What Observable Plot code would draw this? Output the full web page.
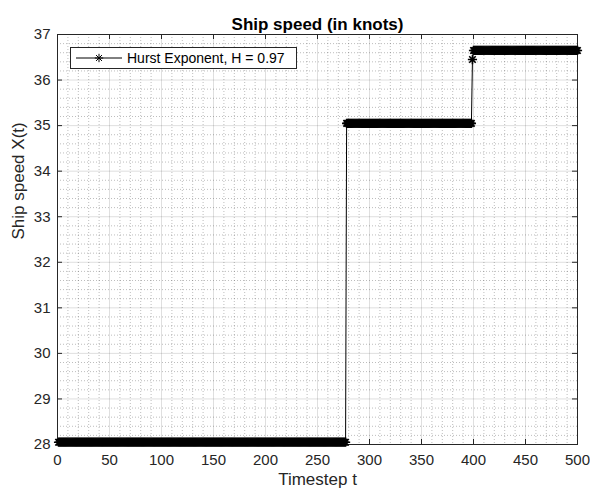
<!DOCTYPE html>
<html>
<head>
<meta charset="utf-8">
<script src="https://cdn.jsdelivr.net/npm/d3@7"></script>
<script src="https://cdn.jsdelivr.net/npm/@observablehq/plot@0.6"></script>
<style>
  body { margin: 0; background: #fff; }
  #chart { position: relative; width: 590px; height: 495px; font-family: "Liberation Sans", Arial, sans-serif; }
  #legend {
    position: absolute; left: 70px; top: 47px; width: 227px; height: 22px;
    box-sizing: border-box; border: 1px solid #262626; background: #fff;
    display: flex; align-items: center; font-size: 14px; color: #000; white-space: nowrap;
  }
  #legend svg { display: block; margin-left: 4px; margin-right: 4px; }
</style>
</head>
<body>
<div id="chart"></div>
<script>
// Ship speed series: piecewise-constant levels over timesteps
const segmentStart = [1, 278, 399, 400];
const segmentEnd   = [277, 398, 399, 500];
const segmentSpeed = [28.05, 35.05, 36.45, 36.65];

const seriesLabel = "Hurst Exponent, H = 0.97";
const chartTitle = "Ship speed (in knots)";
const xLabel = "Timestep t";
const yLabel = "Ship speed X(t)";

const xTicks = [0, 50, 100, 150, 200, 250, 300, 350, 400, 450, 500];
const yTicks = [28, 29, 30, 31, 32, 33, 34, 35, 36, 37];
const xMinorTicks = d3.range(0, 501, 10).filter(v => v % 50 !== 0);
const yMinorTicks = d3.range(28, 37.001, 0.2).map(v => +v.toFixed(1)).filter(v => !Number.isInteger(v));

const points = [];
segmentStart.forEach((s, i) => {
  for (let t = s; t <= segmentEnd[i]; t++) points.push({t, speed: segmentSpeed[i]});
});

// Eight-armed asterisk marker (plus and cross combined)
const asterisk = {
  draw(context, size) {
    const r = Math.sqrt(size / Math.PI);
    const d = r * Math.SQRT1_2;
    context.moveTo(0, -r); context.lineTo(0, r);
    context.moveTo(-r, 0); context.lineTo(r, 0);
    context.moveTo(-d, -d); context.lineTo(d, d);
    context.moveTo(-d, d); context.lineTo(d, -d);
  }
};

const W = 590, H = 495, mL = 57, mR = 13, mT = 34, mB = 51;
const plotW = W - mL - mR, plotH = H - mT - mB;
const axisColor = "#262626";
const markerR = 4.6;

const chart = Plot.plot({
  width: W, height: H,
  marginLeft: mL, marginRight: mR, marginTop: mT, marginBottom: mB,
  style: { fontFamily: "'Liberation Sans', Arial, sans-serif", fontSize: "15px", color: axisColor, background: "#fff", overflow: "visible" },
  x: { domain: [0, 500] },
  y: { domain: [28, 37] },
  marks: [
    // minor grid
    Plot.ruleX(xMinorTicks, { stroke: axisColor, strokeOpacity: 0.3, strokeDasharray: "1,2" }),
    Plot.ruleY(yMinorTicks, { stroke: axisColor, strokeOpacity: 0.3, strokeDasharray: "1,2" }),
    // major grid
    Plot.ruleX(xTicks, { stroke: axisColor, strokeOpacity: 0.15 }),
    Plot.ruleY(yTicks, { stroke: axisColor, strokeOpacity: 0.15 }),
    // box and inward ticks
    Plot.frame({ stroke: axisColor }),
    Plot.ruleX(xTicks, { stroke: axisColor, insetTop: plotH - 5 }),
    Plot.ruleX(xTicks, { stroke: axisColor, insetBottom: plotH - 5 }),
    Plot.ruleY(yTicks, { stroke: axisColor, insetRight: plotW - 5 }),
    Plot.ruleY(yTicks, { stroke: axisColor, insetLeft: plotW - 5 }),
    // tick labels
    Plot.axisX(xTicks, { tickSize: 0, tickPadding: 10, label: null, fill: axisColor, fontSize: 15 }),
    Plot.axisY(yTicks, { tickSize: 0, tickPadding: 7, label: null, fill: axisColor, fontSize: 15 }),
    // series
    Plot.line(points, { x: "t", y: "speed", stroke: "#000", strokeWidth: 1 }),
    Plot.dot(points, { x: "t", y: "speed", symbol: asterisk, r: markerR, stroke: "#000", fill: "none", strokeWidth: 1.6 }),
    // title and axis labels
    Plot.text([chartTitle], { frameAnchor: "top", dy: -17, fontWeight: "bold", fontSize: 17, fill: "#000" }),
    Plot.text([xLabel], { frameAnchor: "bottom", dy: 40, fontSize: 17, fill: axisColor }),
    Plot.text([yLabel], { frameAnchor: "left", dx: -39, rotate: -90, fontSize: 17, fill: axisColor })
  ]
});

const container = document.getElementById("chart");
container.appendChild(chart);

// Legend box
const legend = document.createElement("div");
legend.id = "legend";
const sampleW = 48, sampleH = 14;
const sample = d3.create("svg").attr("width", sampleW).attr("height", sampleH);
sample.append("line").attr("x1", 1).attr("x2", sampleW - 1)
  .attr("y1", sampleH / 2).attr("y2", sampleH / 2).attr("stroke", "#000");
sample.append("path")
  .attr("transform", `translate(${sampleW / 2},${sampleH / 2})`)
  .attr("d", d3.symbol(asterisk, Math.PI * 4.2 * 4.2)())
  .attr("stroke", "#000").attr("fill", "none");
legend.appendChild(sample.node());
const label = document.createElement("span");
label.textContent = seriesLabel;
legend.appendChild(label);
container.appendChild(legend);
</script>
</body>
</html>
